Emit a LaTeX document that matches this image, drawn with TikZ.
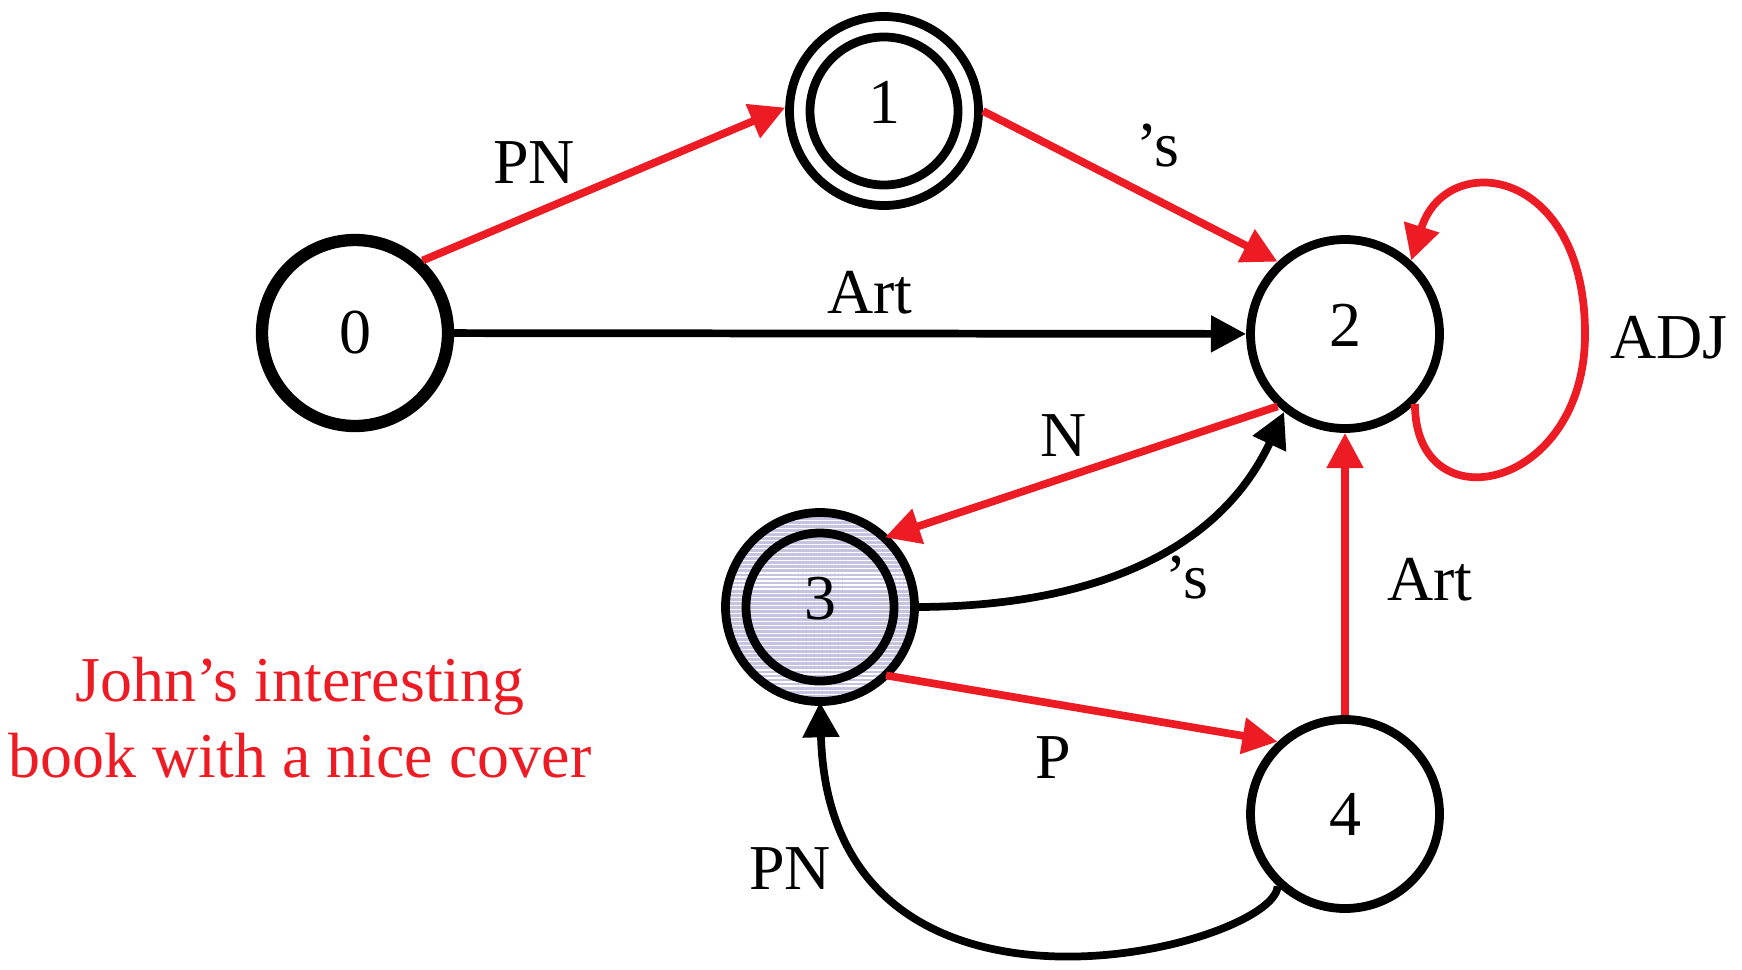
\documentclass[tikz,border=0pt]{standalone}
\usepackage{fontspec}
\setmainfont{Liberation Serif}
\usepackage{tikz}
\usetikzlibrary{arrows.meta,patterns.meta}
\definecolor{Red}{HTML}{ED1C24}
\definecolor{Lilac}{HTML}{C6C3E0}

\begin{document}
\begin{tikzpicture}[
  font=\fontsize{18.2}{21.6}\selectfont,
  state/.style={draw,circle,line width=2.5pt,minimum size=18.9mm,inner sep=0pt},
  start/.style={state,line width=3.5pt,minimum size=18.6mm},
  lift/.style={text depth=1.8mm},
  ring/.style={line width=2.5pt},
  arr/.style={-{Triangle[length=10pt,width=10pt]},line width=2.2pt},
  redarr/.style={arr,color=Red},
  lbl/.style={anchor=base,inner sep=0pt}
]
\useasboundingbox (0,0) rectangle (17.42,9.69);

\node[start] (n0) at (3.55,6.36) {0};
\node[state,lift] (n1) at (8.84,8.58) {1};
\node[state,lift] (n2) at (13.45,6.35) {2};
\node[state,lift,preaction={fill=Lilac},pattern={Lines[angle=0,distance=1.15pt,line width=0.35pt]},pattern color=white] (n3) at (8.20,3.62) {3};
\node[state] (n4) at (13.45,1.55) {4};
\draw[ring] (n1.center) circle[radius=7.4mm];
\draw[ring] (n3.center) circle[radius=7.4mm];

\draw[redarr] (n0.47) -- (n1.178);
\draw[redarr] (n1.east) -- (n2.133);
\draw[arr] (n0) -- (n2);
\draw[redarr] (n2.-45) .. controls +(0,-1.22) and +(0,-1.57) .. ([xshift=24mm]n2.center)
  .. controls +(0,1.68) and +(0.35,1.12) .. (n2.48);
\draw[redarr] (n2.227) -- (n3.47);
\draw[arr] (n3.east) to[out=0,in=245] (n2.232);
\draw[redarr] (n3.-46) -- (n4.133);
\draw[redarr] (n4) -- (n2);
\draw[arr] (n4.227) .. controls +(-0.03,-0.61) and +(0.1,-3.6) .. (n3.south);

\node[lbl] (lPN) at (5.34,7.86) {PN};
\node[lbl] (lS) at (11.58,8.02) {'s};
\node[lbl] (lArt) at (8.70,6.56) {Art};
\node[lbl] (lADJ) at (16.69,6.11) {ADJ};
\node[lbl] (lN) at (10.64,5.13) {N};
\node[lbl] (lSb) at (11.87,3.71) {'s};
\node[lbl] (lArtb) at (14.30,3.69) {Art};
\node[lbl] (lP) at (10.53,1.91) {P};
\node[lbl] (lPNb) at (7.90,0.80) {PN};

\node[text=Red,align=center,anchor=north,inner sep=0pt] (phrase) at (3.00,3.13) {John's interesting\\book with a nice cover};
\end{tikzpicture}
\end{document}
